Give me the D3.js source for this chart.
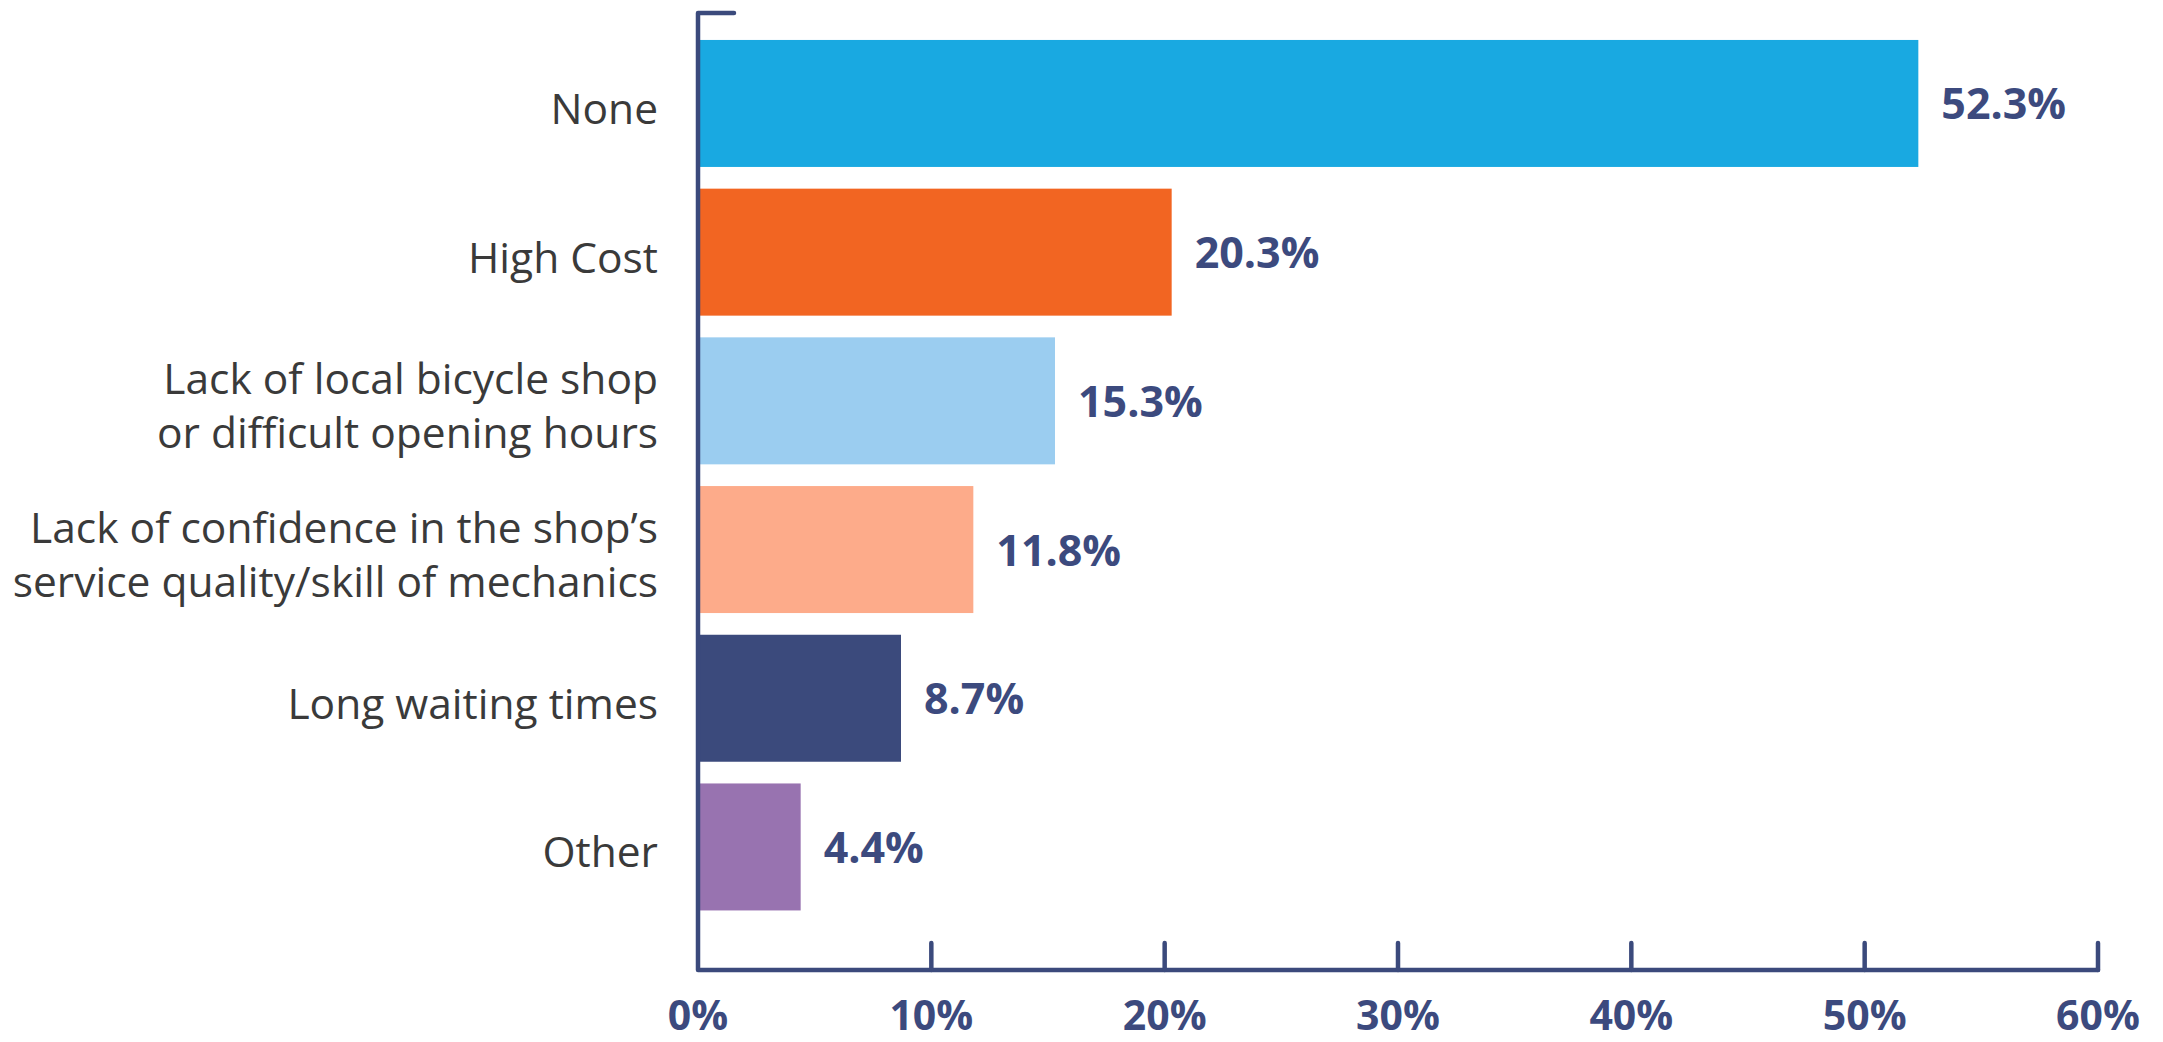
<!DOCTYPE html>
<html>
<head>
<meta charset="utf-8">
<script src="https://cdn.jsdelivr.net/npm/d3@7"></script>
<style>
  html, body { margin: 0; padding: 0; background: #ffffff; }
  svg { display: block; }
</style>
</head>
<body>
<div id="chart"></div>
<script>
// ---- data ----
const categories = [
  ["None"],
  ["High Cost"],
  ["Lack of local bicycle shop", "or difficult opening hours"],
  ["Lack of confidence in the shop\u2019s", "service quality/skill of mechanics"],
  ["Long waiting times"],
  ["Other"]
];
const values = [52.3, 20.3, 15.3, 11.8, 8.7, 4.4];
const barColors = ["#19a9e1", "#f26522", "#9bcdf0", "#fdab8a", "#3b4a7c", "#9873b0"];
const tickValues = [0, 10, 20, 30, 40, 50, 60];
const tickLabels = ["0%", "10%", "20%", "30%", "40%", "50%", "60%"];

// ---- layout ----
const W = 2163, H = 1042;
const axisColor = "#3b4a7c";
const x0 = 698, x1 = 2098;
const yAxisTop = 13, yAxisBottom = 970;

const svg = d3.select("#chart").append("svg")
  .attr("width", W).attr("height", H);

const x = d3.scaleLinear().domain([0, 60]).range([x0, x1]);
const idx = d3.range(values.length);
const y = d3.scaleBand().domain(idx)
  .range([29.1, 921.3]).paddingInner(0.146).paddingOuter(0.073);

// bars
svg.append("g").selectAll("rect").data(idx).join("rect")
  .attr("x", x(0))
  .attr("y", i => y(i))
  .attr("width", i => x(values[i]) - x(0))
  .attr("height", y.bandwidth())
  .attr("fill", i => barColors[i]);

// value labels
svg.append("g").selectAll("text").data(idx).join("text")
  .attr("x", i => x(values[i]) + 23)
  .attr("y", i => y(i) + y.bandwidth() / 2 + 16)
  .attr("font-family", "'Open Sans', 'Noto Sans', sans-serif")
  .attr("font-weight", 700)
  .attr("font-size", 43)
  .attr("fill", "#3c4a7e")
  .text(i => values[i].toFixed(1) + "%");

// category labels
const catG = svg.append("g");
idx.forEach(i => {
  const lines = categories[i];
  const cy = y(i) + y.bandwidth() / 2;
  const t = catG.append("text")
    .attr("text-anchor", "end")
    .attr("font-family", "'Open Sans', 'Noto Sans', sans-serif")
    .attr("font-size", 42.5)
    .attr("fill", "#3a3a3a");
  lines.forEach((ln, j) => {
    t.append("tspan")
      .attr("x", 658)
      .attr("y", cy + 20.5 + (j - (lines.length - 1) / 2) * 54)
      .text(ln);
  });
});

// axes
const axG = svg.append("g")
  .attr("stroke", axisColor)
  .attr("stroke-linecap", "round")
  .attr("stroke-linejoin", "round")
  .attr("fill", "none");

axG.append("path")
  .attr("stroke-width", 4.5)
  .attr("d", `M${x0 + 36},${yAxisTop} L${x0},${yAxisTop} L${x0},${yAxisBottom} L${x1},${yAxisBottom}`);

axG.selectAll("line.tick").data(tickValues.filter(d => d > 0)).join("line")
  .attr("class", "tick")
  .attr("stroke-width", 4.5)
  .attr("x1", d => x(d)).attr("x2", d => x(d))
  .attr("y1", yAxisBottom).attr("y2", yAxisBottom - 27);

// tick labels
svg.append("g").selectAll("text").data(tickValues).join("text")
  .attr("x", d => x(d))
  .attr("y", 1030)
  .attr("text-anchor", "middle")
  .attr("font-family", "'Open Sans', 'Noto Sans', sans-serif")
  .attr("font-weight", 700)
  .attr("font-size", 41)
  .attr("fill", "#3c4a7e")
  .text((d, i) => tickLabels[i]);
</script>
</body>
</html>
